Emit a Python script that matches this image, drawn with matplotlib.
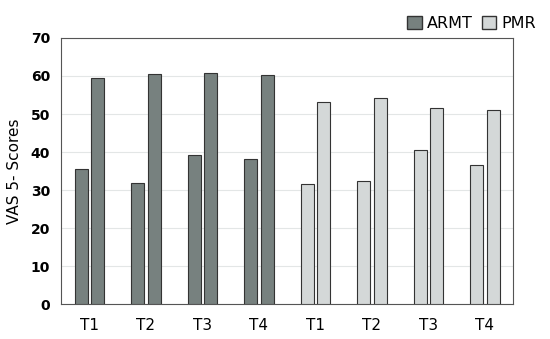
import matplotlib.pyplot as plt
import numpy as np

labels = ['T1', 'T2', 'T3', 'T4', 'T1', 'T2', 'T3', 'T4']
first_bar = [35.5, 31.8, 39.3, 38.2, 31.5, 32.3, 40.6, 36.6]
second_bar = [59.5, 60.5, 60.8, 60.2, 53.2, 54.2, 51.7, 51.1]
group = ['ARMT'] * 4 + ['PMR'] * 4

colors = {'ARMT': '#77817f', 'PMR': '#d4d8d8'}

fig = plt.figure(figsize=(5.5, 3.39), dpi=100)
ax = fig.add_axes([0.111, 0.103, 0.822, 0.785])

x = np.arange(len(labels))
bar_colors = [colors[g] for g in group]
w = 0.23
ax.bar(x - 0.145, first_bar, width=w, color=bar_colors, edgecolor='#333333', linewidth=0.8, zorder=3)
ax.bar(x + 0.145, second_bar, width=w, color=bar_colors, edgecolor='#333333', linewidth=0.8, zorder=3)

ax.set_xlim(-0.5, len(labels) - 0.5)
ax.set_ylim(0, 70)
ax.set_yticks(range(0, 71, 10))
ax.set_xticks(x)
ax.set_xticklabels(labels, fontsize=11)
ax.tick_params(axis='y', labelsize=10, length=0, pad=8)
for t in ax.get_yticklabels():
    t.set_fontweight('bold')
ax.tick_params(axis='x', length=0, pad=10)
ax.grid(axis='y', color='#e3e6e6', linewidth=0.8, zorder=0)
for s in ax.spines.values():
    s.set_color('#555555')
    s.set_linewidth(0.8)
ax.set_ylabel('VAS 5- Scores', fontsize=11, labelpad=6)

handles = [plt.Rectangle((0, 0), 1, 1, facecolor=colors[k], edgecolor='#333333', linewidth=1.0)
           for k in ['ARMT', 'PMR']]
fig.legend(handles, ['ARMT', 'PMR'], loc='upper right', bbox_to_anchor=(1.0, 0.995), ncol=2,
           frameon=False, fontsize=11.5, handlelength=0.9, handleheight=0.9,
           handletextpad=0.3, columnspacing=0.6)

fig.savefig('out.png', dpi=100)
